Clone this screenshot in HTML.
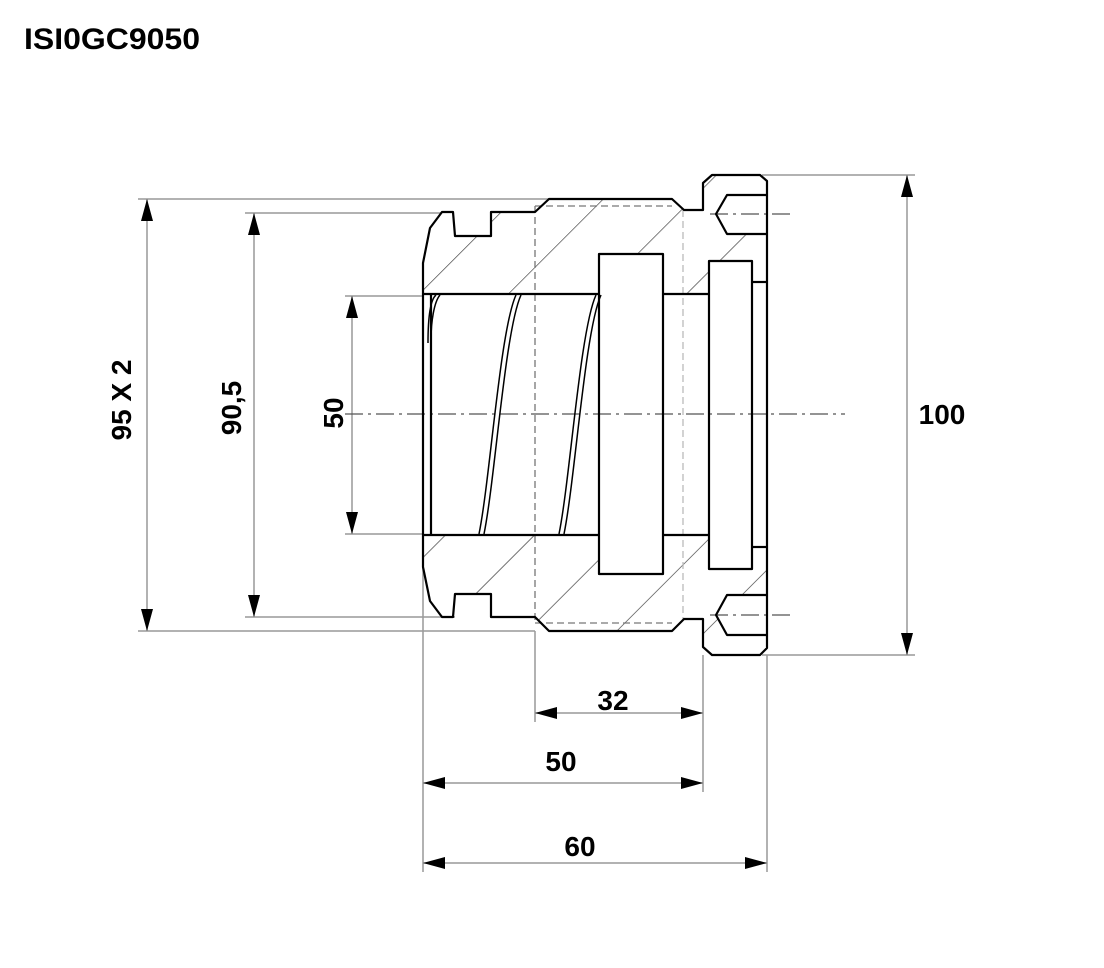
<!DOCTYPE html>
<html><head><meta charset="utf-8"><style>
html,body{margin:0;padding:0;background:#fff;}
svg{display:block;}
text{font-family:"Liberation Sans",sans-serif;font-weight:bold;fill:#000;}
</style></head><body>
<svg width="1104" height="968" viewBox="0 0 1104 968" xmlns="http://www.w3.org/2000/svg">
<defs>
<pattern id="h" patternUnits="userSpaceOnUse" width="63" height="63" patternTransform="rotate(45)">
<line x1="0" y1="0" x2="0" y2="63" stroke="#333" stroke-width="1.3"/>
</pattern>
<marker id="a" viewBox="0 0 22 12" refX="22" refY="6" markerWidth="22" markerHeight="12" markerUnits="userSpaceOnUse" orient="auto">
<path d="M0,0 L22,6 L0,12 z" fill="#000"/>
</marker>
</defs>
<text x="24" y="49" font-size="30" textLength="176" lengthAdjust="spacingAndGlyphs">ISI0GC9050</text>

<g stroke="#999" stroke-width="1.5" fill="none">
<line x1="138" y1="199" x2="549" y2="199"/>
<line x1="138" y1="631" x2="535" y2="631"/>
<line x1="245" y1="213" x2="442" y2="213"/>
<line x1="245" y1="617" x2="455" y2="617"/>
<line x1="345" y1="296" x2="430" y2="296"/>
<line x1="345" y1="534" x2="430" y2="534"/>
<line x1="762" y1="175" x2="915" y2="175"/>
<line x1="762" y1="655" x2="915" y2="655"/>
<line x1="423" y1="540" x2="423" y2="872"/>
<line x1="767" y1="655" x2="767" y2="872"/>
<line x1="535" y1="631" x2="535" y2="722"/>
<line x1="703" y1="655" x2="703" y2="792"/>
</g>
<g stroke="#999" stroke-width="1.5" fill="none">
<path d="M147,420 L147,199" marker-end="url(#a)"/>
<path d="M147,420 L147,631" marker-end="url(#a)"/>
<path d="M254,420 L254,213" marker-end="url(#a)"/>
<path d="M254,420 L254,617" marker-end="url(#a)"/>
<path d="M352,420 L352,296" marker-end="url(#a)"/>
<path d="M352,420 L352,534" marker-end="url(#a)"/>
<path d="M907,420 L907,175" marker-end="url(#a)"/>
<path d="M907,420 L907,655" marker-end="url(#a)"/>
<path d="M620,713 L535,713" marker-end="url(#a)"/>
<path d="M620,713 L703,713" marker-end="url(#a)"/>
<path d="M560,783 L423,783" marker-end="url(#a)"/>
<path d="M560,783 L703,783" marker-end="url(#a)"/>
<path d="M590,863 L423,863" marker-end="url(#a)"/>
<path d="M590,863 L767,863" marker-end="url(#a)"/>
</g>

<path fill="url(#h)" stroke="none" d="M423,263 L430,228 L442,212 L453,212 L455,236 L491,236 L491,212 L535,212 L549,199 L672,199 L684,210 L703,210 L703,183 L712,175 L760,175 L767,181 L767,648 L760,655 L712,655 L703,647 L703,619 L684,619 L672,631 L549,631 L535,617 L491,617 L491,594 L455,594 L453,617 L442,617 L430,601 L423,567 Z"/>
<g fill="#fff" stroke="none">
<rect x="423" y="294" width="344" height="241"/>
<rect x="599" y="254" width="64" height="320"/>
<rect x="709" y="261" width="43" height="308"/>
<rect x="727" y="195" width="40" height="39"/>
<rect x="727" y="595" width="40" height="40"/>
<path d="M727,195 L716,214 L727,234 Z M727,595 L716,615 L727,635 Z"/>
</g>

<g stroke="#777" stroke-width="1.3" fill="none" stroke-dasharray="7,4">
<line x1="535" y1="206" x2="672" y2="206"/>
<line x1="535" y1="623" x2="672" y2="623"/>
<line x1="535" y1="206" x2="535" y2="623"/>
</g>
<g stroke="#bbb" stroke-width="1.3" fill="none" stroke-dasharray="7,4">
<line x1="683" y1="210" x2="683" y2="619"/>
</g>
<g stroke="#555" stroke-width="1.2" fill="none" stroke-dasharray="18,5,3,5">
<line x1="345" y1="414" x2="845" y2="414"/>
<line x1="710" y1="214" x2="795" y2="214"/>
<line x1="710" y1="615" x2="795" y2="615"/>
</g>

<g stroke="#000" stroke-width="2.2" fill="none" stroke-linejoin="round">
<path d="M423,294 L423,263 L430,228 L442,212 L453,212 L455,236 L491,236 L491,212 L535,212 L549,199 L672,199 L684,210 L703,210 L703,183 L712,175 L760,175 L767,181 L767,648 L760,655 L712,655 L703,647 L703,619 L684,619 L672,631 L549,631 L535,617 L491,617 L491,594 L455,594 L453,617 L442,617 L430,601 L423,567 L423,535"/>
<line x1="423" y1="294" x2="423" y2="535"/>
<line x1="431" y1="294" x2="431" y2="535"/>
<line x1="423" y1="294" x2="599" y2="294"/>
<line x1="663" y1="294" x2="709" y2="294"/>
<line x1="423" y1="535" x2="599" y2="535"/>
<line x1="663" y1="535" x2="709" y2="535"/>
<line x1="752" y1="282" x2="767" y2="282"/>
<line x1="752" y1="547" x2="767" y2="547"/>
<rect x="599" y="254" width="64" height="320"/>
<rect x="709" y="261" width="43" height="308"/>
<path d="M767,195 L727,195 L716,214 L727,234 L767,234"/>
<path d="M767,595 L727,595 L716,615 L727,635 L767,635"/>
</g>
<g stroke="#000" stroke-width="1.5" fill="none">
<path d="M436,295 C430,300 428,320 428,343"/>
<path d="M440,295 C434,302 431,322 431,340"/>
<path d="M516,295 C500,330 490,480 479,534"/>
<path d="M521,295 C505,330 495,480 484,534"/>
<path d="M596,295 C580,330 570,480 559,534"/>
<path d="M601,295 C585,330 575,480 564,534"/>
</g>

<text transform="translate(131,400) rotate(-90)" font-size="28" text-anchor="middle">95 X 2</text>
<text transform="translate(241,408) rotate(-90)" font-size="28" text-anchor="middle">90,5</text>
<text transform="translate(343,413) rotate(-90)" font-size="28" text-anchor="middle">50</text>
<text x="942" y="424" font-size="28" text-anchor="middle">100</text>
<text x="613" y="710" font-size="28" text-anchor="middle">32</text>
<text x="561" y="771" font-size="28" text-anchor="middle">50</text>
<text x="580" y="856" font-size="28" text-anchor="middle">60</text>
</svg>
</body></html>
